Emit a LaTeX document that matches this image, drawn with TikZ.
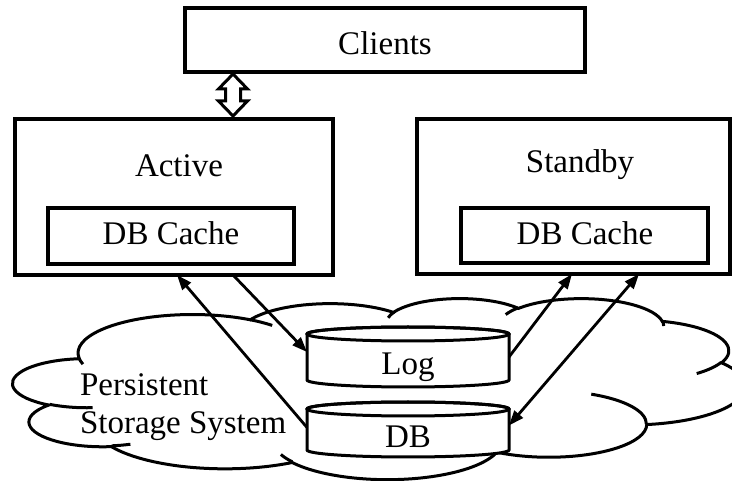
\documentclass[tikz,border=0pt]{standalone}
\usepackage{fontspec}
\setmainfont{Liberation Serif}
\usetikzlibrary{arrows.meta}

\tikzset{
  box/.style={draw, line width=3.2pt, rectangle, inner sep=0pt, outer sep=0pt},
  lbl/.style={font=\fontsize{33}{38}\selectfont, inner sep=0pt, outer sep=0pt},
  store/.style={rectangle, inner sep=0pt, outer sep=0pt, minimum width=202pt},
  flow/.style={line width=2.8pt, -{Triangle[length=15pt,width=11pt]}},
  both/.style={line width=2.8pt, {Triangle[length=15pt,width=11pt]}-{Triangle[length=15pt,width=11pt]}},
  outline/.style={line width=3pt},
  hollow/.style={draw, fill=white, line width=3pt, line join=miter},
}

% storage drum drawn over a named placeholder node
\newcommand\drum[1]{%
  \path[draw, fill=white, outline]
    ([yshift=-7pt]#1.north west) -- ([yshift=7pt]#1.south west)
    arc[start angle=180, end angle=360, x radius=101pt, y radius=7pt]
    -- ([yshift=-7pt]#1.north east)
    arc[start angle=0, end angle=180, x radius=101pt, y radius=7pt]
    -- cycle;
  \draw[outline] ([yshift=-7pt]#1.north) ellipse[x radius=101pt, y radius=7pt];
}

\begin{document}
\begin{tikzpicture}[x=1pt, y=-1pt,
  declare function={pa(\angA,\radX,\radY)=\angA+atan((\radX-\radY)*sin(\angA)*cos(\angA)/(\radY*cos(\angA)^2+\radX*sin(\angA)^2));}]
\useasboundingbox (0,0) rectangle (732,481);

% cloud of the persistent storage system
\begin{scope}[shift={(13,298)}, x=1pt, y=1pt, xscale=16.944, yscale=-4.19]
  \draw[outline, fill=white] (3.9,14.37)
    arc[start angle={pa(-190.4875,6.753,9.19)}, end angle={pa(-66.7070,6.753,9.19)}, x radius=6.753pt, y radius=9.19pt]
    arc[start angle={pa(-144.1024,5.333,7.267)}, end angle={pa(-54.1572,5.333,7.267)}, x radius=5.333pt, y radius=7.267pt]
    arc[start angle={pa(-145.8079,4.365,5.945)}, end angle={pa(-46.0849,4.365,5.945)}, x radius=4.365pt, y radius=5.945pt]
    arc[start angle={pa(-130.9861,4.857,6.595)}, end angle={pa(-13.7444,4.857,6.595)}, x radius=4.857pt, y radius=6.595pt]
    arc[start angle={pa(-78.7089,5.333,7.273)}, end angle={pa(30.3180,5.333,7.273)}, x radius=5.333pt, y radius=7.273pt]
    arc[start angle={pa(-46.2673,6.775,9.22)}, end angle={pa(84.0017,6.775,9.22)}, x radius=6.775pt, y radius=9.22pt]
    arc[start angle={pa(0.6250,5.785,7.867)}, end angle={pa(114.6583,5.785,7.867)}, x radius=5.785pt, y radius=7.867pt]
    arc[start angle={pa(22.4516,6.752,9.215)}, end angle={pa(137.6242,6.752,9.215)}, x radius=6.752pt, y radius=9.215pt]
    arc[start angle={pa(66.2426,7.72,10.543)}, end angle={pa(141.9536,7.72,10.543)}, x radius=7.72pt, y radius=10.543pt]
    arc[start angle={pa(-274.9421,4.36,5.918)}, end angle={pa(-128.2065,4.36,5.918)}, x radius=4.36pt, y radius=5.918pt]
    arc[start angle={pa(-246.8285,4.345,5.945)}, end angle={pa(-94.3096,4.345,5.945)}, x radius=4.345pt, y radius=5.945pt]
    -- cycle;
  \draw[outline]
    (4.693,26.177) arc[start angle={pa(86.7420,4.345,5.945)}, end angle={pa(113.1715,4.345,5.945)}, x radius=4.345pt, y radius=5.945pt]
    (6.928,34.899) arc[start angle={pa(73.6105,4.36,5.918)}, end angle={pa(85.0580,4.36,5.918)}, x radius=4.36pt, y radius=5.918pt]
    (16.478,39.09) arc[start angle={pa(137.6242,6.752,9.215)}, end angle={pa(151.7053,6.752,9.215)}, x radius=6.752pt, y radius=9.215pt]
    (28.827,34.751) arc[start angle={pa(6.4533,6.752,9.215)}, end angle={pa(22.4517,6.752,9.215)}, x radius=6.752pt, y radius=9.215pt]
    (34.129,22.954) arc[start angle={pa(-70.2924,5.785,7.867)}, end angle={pa(0.6250,5.785,7.867)}, x radius=5.785pt, y radius=7.867pt]
    (41.798,15.354) arc[start angle={pa(30.3180,5.333,7.273)}, end angle={pa(58.0695,5.333,7.273)}, x radius=5.333pt, y radius=7.273pt]
    (38.324,5.426) arc[start angle={pa(-13.7443,4.857,6.595)}, end angle={pa(1.1146,4.857,6.595)}, x radius=4.857pt, y radius=6.595pt]
    (29.078,3.952) arc[start angle={pa(-149.1815,4.857,6.595)}, end angle={pa(-130.9861,4.857,6.595)}, x radius=4.857pt, y radius=6.595pt]
    (22.141,4.72) arc[start angle={pa(-163.4943,4.365,5.945)}, end angle={pa(-145.8079,4.365,5.945)}, x radius=4.365pt, y radius=5.945pt]
    (14.0,5.192) arc[start angle={pa(-66.7070,6.753,9.19)}, end angle={pa(-54.3876,6.753,9.19)}, x radius=6.753pt, y radius=9.19pt]
    (4.127,15.789) arc[start angle={pa(157.6544,6.753,9.19)}, end angle={pa(169.5126,6.753,9.19)}, x radius=6.753pt, y radius=9.19pt];
\end{scope}

\node[lbl, anchor=base west] (tpss1) at (80,396) {Persistent};
\node[lbl, anchor=base west] (tpss2) at (80,434) {Storage System};

% servers and clients
\node[box, minimum width=400pt, minimum height=64pt] (clients) at (385,40) {};
\node[box, minimum width=318pt, minimum height=156pt] (active) at (174,197) {};
\node[box, minimum width=246pt, minimum height=56pt] (cache1) at (171,236) {};
\node[box, minimum width=313pt, minimum height=155pt] (standby) at (573.5,196.5) {};
\node[box, minimum width=247pt, minimum height=55pt] (cache2) at (584.5,235.5) {};

\node[lbl, anchor=base] (tclients) at (385,55) {Clients};
\node[lbl, anchor=base] (tactive) at (179,177) {Active};
\node[lbl, anchor=base] (tstandby) at (580,173) {Standby};
\node[lbl, anchor=base] (tcache1) at (171,245) {DB Cache};
\node[lbl, anchor=base] (tcache2) at (585,245) {DB Cache};

% log and database drums
\node[store, minimum height=60pt] (log) at (408,357) {};
\node[store, minimum height=55pt] (db) at (408,429.5) {};
\drum{log}
\drum{db}
\node[lbl, anchor=base] (tlog) at (408,375) {Log};
\node[lbl, anchor=base] (tdb) at (408,447) {DB};

% hollow two-way link between clients and the active server
\draw[hollow] ([xshift=48pt,yshift=-2pt]clients.south west)
  -- ++(14.5,15) -- ++(-7,0) -- ++(0,12) -- ++(7,0) -- ++(-14.5,15)
  -- ++(-14.5,-15) -- ++(7,0) -- ++(0,-12) -- ++(-7,0) -- cycle;

% data flows
\draw[flow] ([xshift=218pt]active.south west) -- ([yshift=5pt]log.west);
\draw[flow] ([yshift=2pt]db.west) -- ([xshift=162pt]active.south west);
\draw[flow] (log.east) -- ([xshift=155pt]standby.south west);
\draw[both] ([xshift=222pt]standby.south west) -- ([yshift=4pt]db.east);
\end{tikzpicture}
\end{document}
